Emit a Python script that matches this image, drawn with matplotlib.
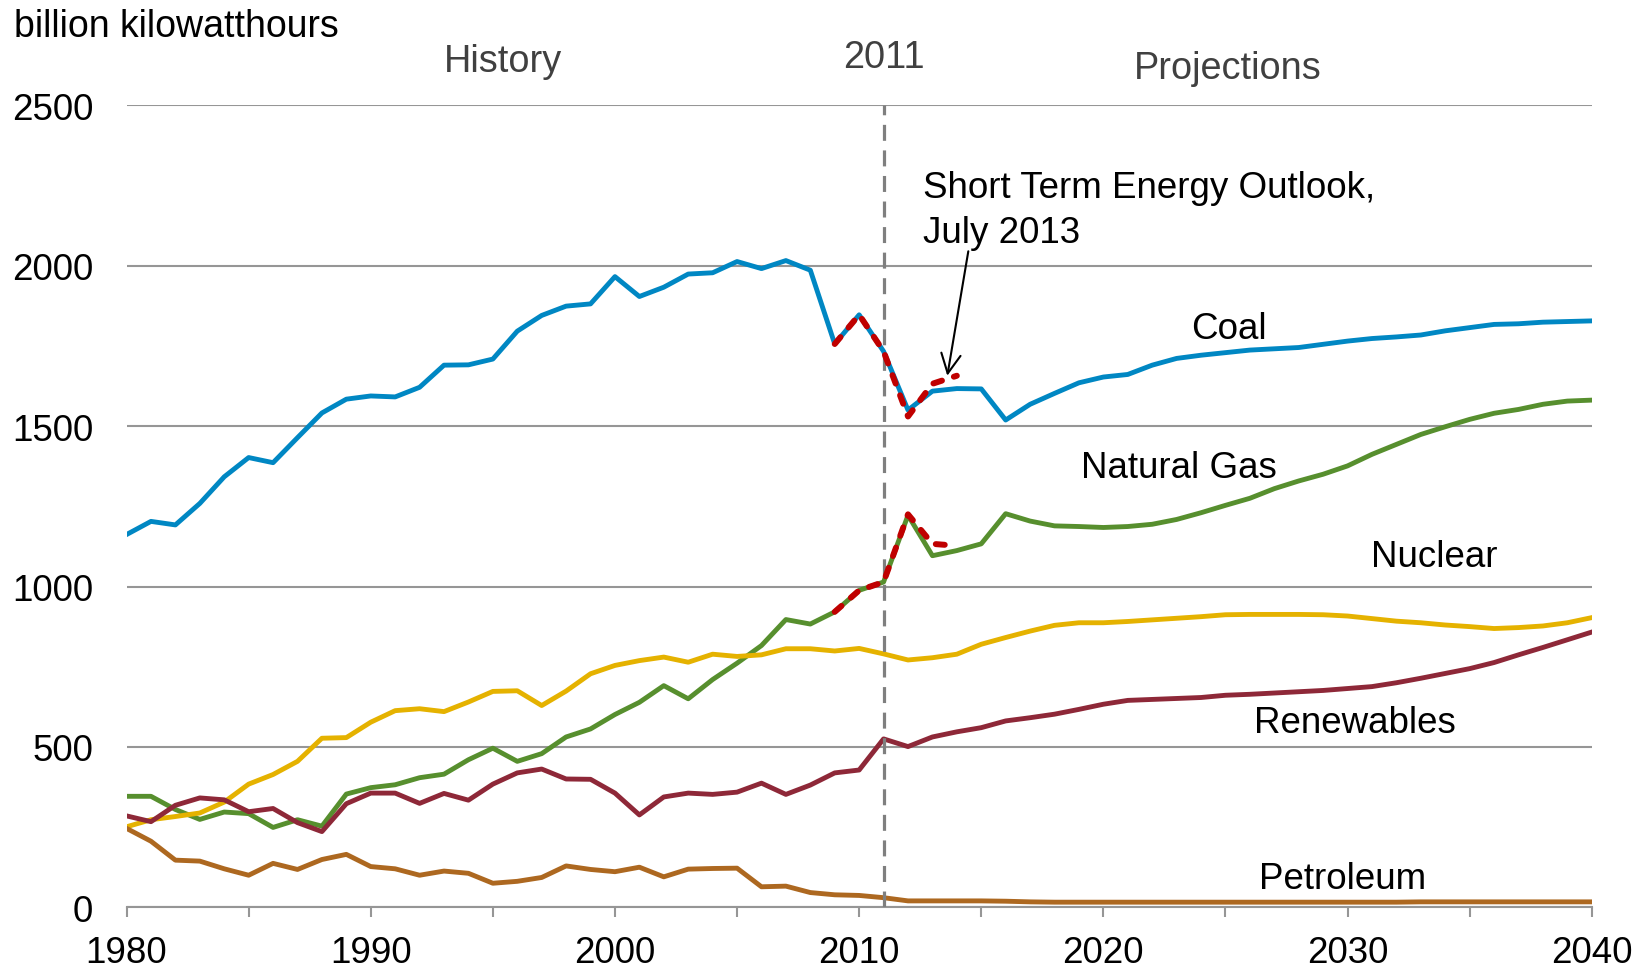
import numpy as np
import matplotlib
matplotlib.use("Agg")
import matplotlib.pyplot as plt

plt.rcParams['font.family'] = ['Liberation Sans', 'DejaVu Sans']

# electricity generation by fuel, billion kWh (AEO, 1980-2040)
years = np.arange(1980, 2041)
coal = [1162, 1203, 1192, 1259, 1342, 1402, 1386, 1464, 1541, 1584,
        1594, 1591, 1621, 1690, 1691, 1709, 1796, 1845, 1874, 1881,
        1966, 1904, 1933, 1974, 1978, 2013, 1991, 2016, 1986, 1756,
        1847, 1733, 1550, 1609, 1617, 1616, 1519, 1568, 1602, 1635,
        1653, 1661, 1690, 1711, 1721, 1729, 1737, 1741, 1745, 1755,
        1765, 1773, 1778, 1784, 1797, 1807, 1817, 1819, 1824, 1826,
        1828]
natural_gas = [346, 346, 305, 274, 297, 292, 249, 273, 253, 353,
               373, 382, 404, 415, 460, 496, 455, 479, 531, 556,
               601, 639, 691, 650, 710, 761, 816, 897, 883, 921,
               988, 1014, 1222, 1096, 1112, 1133, 1227, 1204, 1189, 1187,
               1184, 1187, 1194, 1209, 1230, 1253, 1275, 1305, 1329, 1350,
               1376, 1412, 1443, 1474, 1498, 1521, 1540, 1552, 1568, 1578,
               1581]
nuclear = [251, 273, 283, 294, 328, 384, 414, 455, 527, 529,
           577, 613, 619, 610, 640, 673, 675, 629, 674, 728,
           754, 769, 780, 764, 789, 782, 787, 806, 806, 799,
           807, 790, 771, 778, 789, 820, 841, 861, 879, 887,
           887, 891, 896, 901, 906, 912, 913, 913, 913, 912,
           908, 900, 892, 887, 880, 875, 869, 872, 877, 887,
           903]
renewables = [285, 267, 318, 341, 335, 298, 308, 264, 236, 323,
              356, 356, 324, 355, 334, 384, 419, 431, 400, 399,
              356, 288, 344, 356, 352, 359, 387, 352, 381, 419,
              428, 525, 501, 531, 547, 560, 581, 591, 602, 617,
              633, 645, 648, 651, 654, 661, 664, 668, 672, 676,
              682, 688, 700, 714, 729, 744, 763, 787, 810, 834,
              858]
petroleum = [246, 206, 147, 144, 120, 100, 137, 118, 149, 165,
             127, 120, 100, 113, 106, 75, 81, 93, 129, 118,
             111, 125, 95, 119, 121, 122, 64, 66, 46, 39,
             37, 30, 20, 20, 20, 20, 19, 17, 16, 16,
             16, 16, 16, 16, 16, 16, 16, 16, 16, 16,
             16, 16, 16, 17, 17, 17, 17, 17, 17, 17,
             17]

# Short Term Energy Outlook, July 2013
steo_years = [2009, 2010, 2011, 2012, 2013, 2014]
steo_coal = [1756, 1847, 1733, 1530, 1632, 1657]
steo_gas = [921, 988, 1014, 1225, 1133, 1127]

last_history_year = 2011

series = [
    (coal, '#0087C3'),
    (natural_gas, '#578F2E'),
    (nuclear, '#E5B200'),
    (renewables, '#8E2838'),
    (petroleum, '#AD6820'),
]

fig = plt.figure(figsize=(16.5, 9.7), dpi=100)
ax = fig.add_axes([0.0767, 0.0636, 0.888, 0.8268])

for vals, col in series:
    ax.plot(years, vals, color=col, lw=3.5, solid_joinstyle='round', zorder=3)

ax.axvline(last_history_year, color='#7F7F7F', lw=2.3, dashes=(5, 3), zorder=4)

for vals in (steo_coal, steo_gas):
    ax.plot(steo_years, vals, color='#C00000', lw=4.3, dashes=(1.5, 2.1),
            dash_capstyle='round', zorder=5)

ax.set_xlim(1980, 2040)
ax.set_ylim(0, 2500)
ax.set_xticks(np.arange(1980, 2041, 10))
ax.set_xticks(np.arange(1985, 2040, 10), minor=True)
ax.set_yticks(np.arange(0, 2501, 500))
ax.yaxis.grid(True, color='#969696', lw=1.5)
ax.set_axisbelow(True)

for s in ['left', 'right', 'top']:
    ax.spines[s].set_visible(False)
ax.spines['bottom'].set_color('#969696')
ax.spines['bottom'].set_linewidth(1.5)

ax.tick_params(axis='x', which='both', length=7.2, width=1.5, color='#969696',
               labelsize=26.5, pad=13)
ax.tick_params(axis='y', length=0, labelsize=26.5, pad=24)

lab = dict(fontsize=26.5, ha='center', va='baseline', color='black')
ax.text(2025.15, 1774, 'Coal', **lab)
ax.text(2023.11, 1340, 'Natural Gas', **lab)
ax.text(2033.53, 1065, 'Nuclear', **lab)
ax.text(2030.32, 545, 'Renewables', **lab)
ax.text(2029.8, 59, 'Petroleum', **lab)

# va='baseline' sits on the last line for multi-line text
ax.text(2012.6, 2073, 'Short Term Energy Outlook,\nJuly 2013', fontsize=26.5,
        ha='left', va='baseline', linespacing=1.38)
ax.annotate('', xy=(2013.61, 1657), xytext=(2014.47, 2045),
            arrowprops=dict(arrowstyle='->,head_length=0.7,head_width=0.35',
                            color='black', lw=1.5, shrinkA=0, shrinkB=0,
                            mutation_scale=20))

top = dict(fontsize=27.3, ha='center', va='baseline', color='#404040', clip_on=False)
ax.text(1995.43, 2608, 'History', **top)
ax.text(2011.02, 2618, '2011', **top)
ax.text(2025.11, 2584, 'Projections', **top)

fig.text(14.4 / 1650, 1 - 36.7 / 970, 'billion kilowatthours', fontsize=27,
         ha='left', va='baseline')

fig.savefig('out.png', dpi=100)
